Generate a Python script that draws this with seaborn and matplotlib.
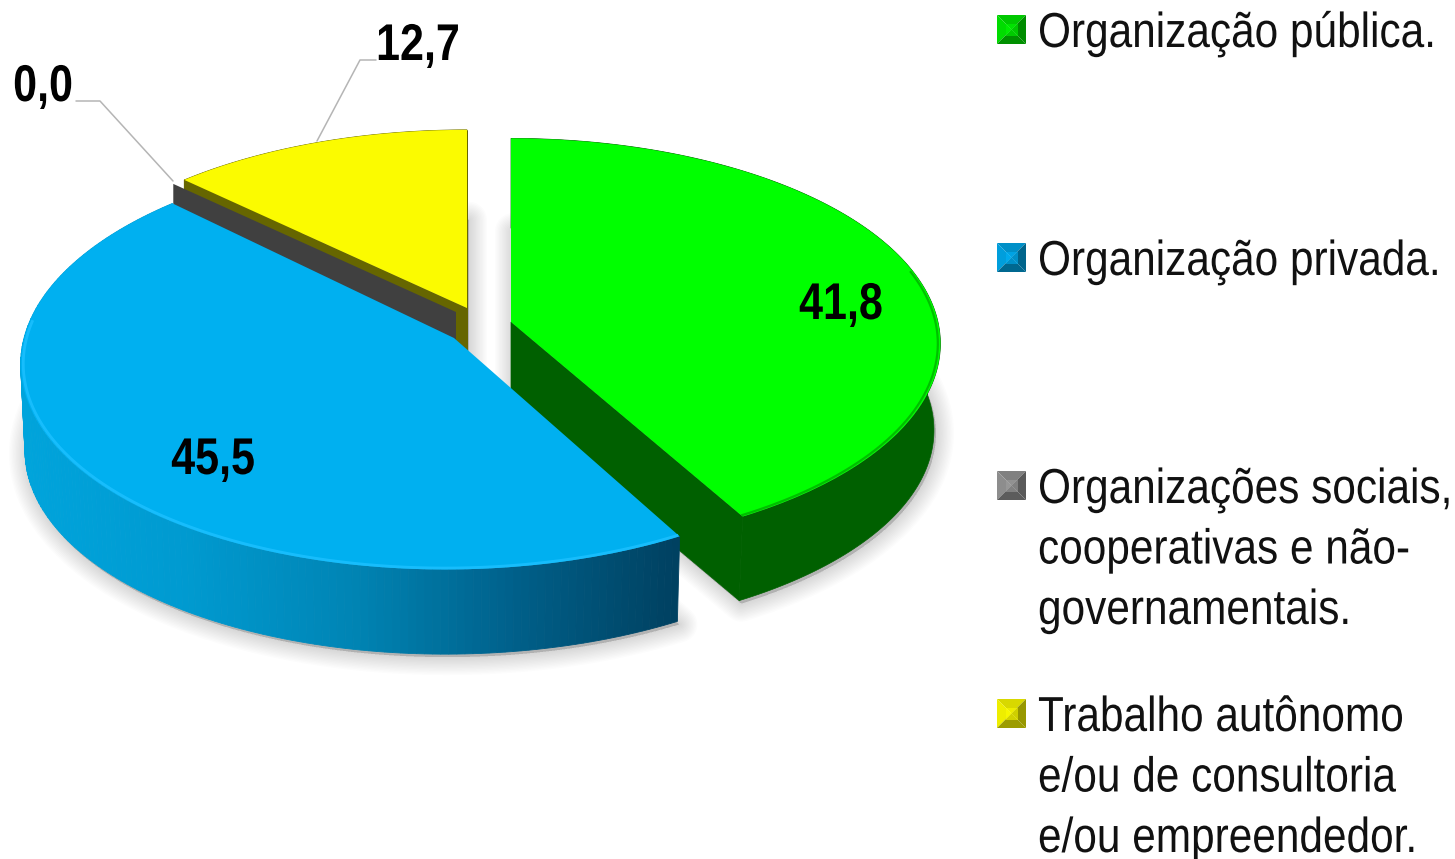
import numpy as np
import matplotlib
matplotlib.use("Agg")
import matplotlib.pyplot as plt
import seaborn as sns
from matplotlib.transforms import Transform, Affine2D
from matplotlib.colors import LinearSegmentedColormap, to_rgb
from matplotlib.patches import Polygon, Rectangle
from matplotlib.patheffects import AbstractPathEffect

categories = ["Organização pública.", "Organização privada.",
              "Organizações sociais,\ncooperativas e não-\ngovernamentais.",
              "Trabalho autônomo\ne/ou de consultoria\ne/ou empreendedor."]
values = [41.8, 45.5, 0.0, 12.7]
value_labels = ["41,8", "45,5", "0,0", "12,7"]

top_colors = ["#00FF00", "#00B0F0", "#404040", "#FBFB00"]
wall_colors = ["#006000", "#006090", "#404040", "#666600"]

sns.set_theme(style="white")
plt.rcParams["font.family"] = ["Liberation Sans", "DejaVu Sans"]

K = 0.1056
DEPTH = 87


class Tall(AbstractPathEffect):
    """Stretches glyphs vertically about their baseline (the source font is condensed)."""

    def __init__(self, sy):
        super().__init__()
        self.sy = sy

    def draw_path(self, renderer, gc, tpath, affine, rgbFace=None):
        renderer.draw_path(gc, tpath, Affine2D().scale(1, self.sy) + affine, rgbFace)


class Proj(Transform):
    input_dims = 2
    output_dims = 2
    is_separable = False
    has_inverse = False

    def __init__(self, ax_, ay_, A, B, shear=0.0, drop=0.0, scale=1.0):
        super().__init__()
        self.p = (ax_, ay_, A, B, shear, drop, scale)

    def transform_non_affine(self, values):
        ax_, ay_, A, B, shear, drop, scale = self.p
        v = np.asarray(values, dtype=float)
        w = 1 + K * v[:, 1]
        return np.column_stack([ax_ + scale * (A * v[:, 0] + shear * v[:, 1]) / w,
                                ay_ + drop - scale * B * v[:, 1] / w])


def arc(t1, t2, n=160):
    t = np.radians(np.linspace(t1, t2, n))
    return np.column_stack([np.cos(t), np.sin(t)])


fig = plt.figure(figsize=(14.55, 8.59), dpi=100, facecolor="white")
ax = fig.add_axes([0, 0, 1, 1])
wedges, _ = ax.pie(values, colors=top_colors, startangle=90, counterclock=False,
                   wedgeprops=dict(linewidth=0))
ax.set_aspect("auto")
ax.set_xlim(0, 1455)
ax.set_ylim(859, 0)
ax.axis("off")

# slice geometry: apex x, apex y, horizontal and vertical radius, shear
geom = [(511, 322, 427, 203, 0), (454, 338, 430, 207, 8), (456, 312, 424, 197, 0), (467, 308, 424, 197, 0)]
top_z = [6, 8, 0, 3]
wall_z = [5, 7, 4, 2]
wall_scale = [0.985, 0.99, 1.0, 1.0]
rim = [("#00B400", 15, 1.6), ("#1CC0FF", -185, 2.0), None, None]

for i, w in enumerate(wedges):
    gx, gy, A, B, sh = geom[i]
    top = Proj(gx, gy, A, B, sh)
    bot = Proj(gx, gy, A, B, sh, DEPTH, wall_scale[i])
    w.set_transform(top + ax.transData)
    w.set_zorder(top_z[i])
    w.set_visible(values[i] > 0)
    pts = arc(w.theta1, w.theta2)
    apex = np.array([[0.0, 0.0]])

    # soft drop shadow under the slice
    if values[i] > 0:
        outline = bot.transform_non_affine(np.vstack([apex, pts]))
        outline = outline + np.array([2, 3])
        for lw in np.arange(26, 1, -2.0):
            ax.add_patch(Polygon(outline, closed=True, facecolor="black", edgecolor="black",
                                 linewidth=lw, alpha=0.011, zorder=1, joinstyle="round"))

    # side walls
    if i == 1:
        cmap = LinearSegmentedColormap.from_list(
            "wall", ["#004060", "#00608a", "#0085b5", "#009ad0", "#00a4dc"])
        ths = np.linspace(w.theta1, w.theta2, 170)
        px = top.transform_non_affine(arc(w.theta1, w.theta2, 170))[:, 0]
        xmin, xmax = px.min(), px.max()
        for a, b in zip(ths[:-1], ths[1:]):
            seg = arc(a, b, 4)
            x = (top.transform_non_affine(seg)[:, 0].mean() - xmin) / (xmax - xmin)
            poly = np.vstack([top.transform_non_affine(seg), bot.transform_non_affine(seg)[::-1]])
            ax.fill(poly[:, 0], poly[:, 1], color=cmap(1 - x), lw=0.6, zorder=wall_z[i])
    elif i == 2:
        p = arc(w.theta1, w.theta1, 1)
        poly = np.vstack([top.transform_non_affine(apex), top.transform_non_affine(p),
                          bot.transform_non_affine(p), bot.transform_non_affine(apex)])
        ax.fill(poly[:, 0], poly[:, 1], color=wall_colors[i], lw=0, zorder=wall_z[i])
    else:
        poly = np.vstack([top.transform_non_affine(pts), bot.transform_non_affine(pts)[::-1]])
        ax.fill(poly[:, 0], poly[:, 1], color=wall_colors[i], lw=0.5, zorder=wall_z[i])
        # cut faces
        for edge in (pts[:1], pts[-1:]):
            poly = np.vstack([top.transform_non_affine(apex), top.transform_non_affine(edge),
                              bot.transform_non_affine(edge), bot.transform_non_affine(apex)])
            ax.fill(poly[:, 0], poly[:, 1], color=wall_colors[i], lw=0.5, zorder=wall_z[i])

    # bevelled rim along the front edge of the top face
    if rim[i] is not None:
        col, end, lw = rim[i]
        r = Proj(gx, gy, A, B, sh, 0.0, 0.994).transform_non_affine(
            arc(w.theta2 if i == 1 else w.theta1, end))
        ax.plot(r[:, 0], r[:, 1], color=col, lw=lw, alpha=0.85, zorder=top_z[i] + 0.5,
                solid_capstyle="butt")

# value labels with leader lines
bold = dict(fontsize=31, fontweight="bold", color="black", ha="center", va="baseline",
            zorder=10, path_effects=[Tall(1.2)])
ax.text(841, 319, value_labels[0], **bold)
ax.text(213, 474, value_labels[1], **bold)
ax.text(43, 101, value_labels[2], **bold)
ax.text(418, 60, value_labels[3], **bold)
ax.plot([76, 100, 173], [101, 101, 181], color="#b5b5b5", lw=1.1, zorder=9)
ax.plot([376, 360, 317], [60, 60, 141], color="#b5b5b5", lw=1.1, zorder=9)

# legend with bevelled keys
key_y = [30, 258, 486, 714]
key_colors = ["#00C800", "#0090C8", "#808080", "#D8D800"]
for label, y, c in zip(categories, key_y, key_colors):
    x0, x1, y0, y1 = 997, 1026, y - 15, y + 14
    cx, cy = (x0 + x1) / 2, (y0 + y1) / 2
    rgb = np.array(to_rgb(c))
    sides = [([(x0, y0), (x1, y0), (cx, cy)], 1.0),
             ([(x0, y0), (x0, y1), (cx, cy)], 1.1),
             ([(x1, y0), (x1, y1), (cx, cy)], 0.7),
             ([(x0, y1), (x1, y1), (cx, cy)], 0.72)]
    for tri, f in sides:
        ax.add_patch(Polygon(tri, closed=True, color=tuple(np.clip(rgb * f, 0, 1)), lw=0, zorder=9))
    ax.add_patch(Rectangle((cx - 6, cy - 6), 12, 12, color=tuple(np.clip(rgb * 1.25, 0, 1)),
                           lw=0, alpha=0.55, zorder=9.2))
    for k, line in enumerate(label.split("\n")):
        ax.text(1038, y + 17 + 60.5 * k, line, fontsize=30.5, color="#111111", ha="left",
                va="baseline", zorder=10, path_effects=[Tall(1.16)])

fig.savefig("out.png", dpi=100)
